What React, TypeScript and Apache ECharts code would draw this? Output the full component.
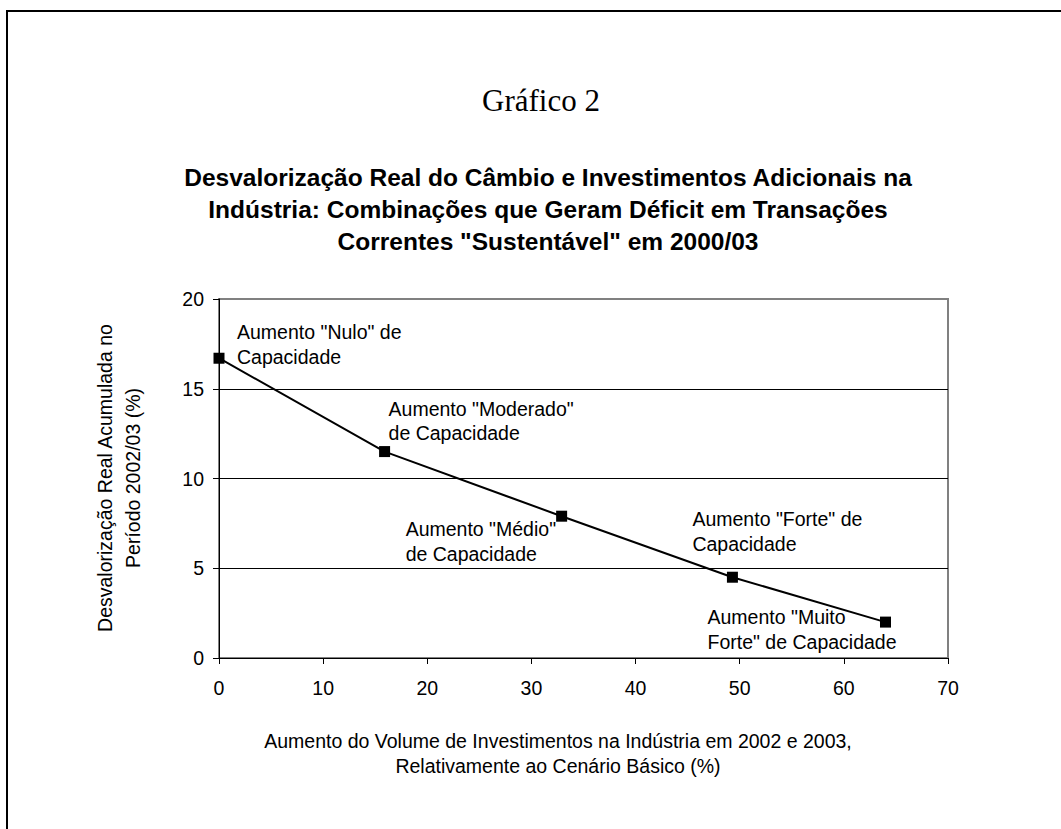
import React, { useEffect, useRef } from "react";
import * as echarts from "echarts";

// ---- Data ----
const investIncrease: number[] = [0, 15.9, 32.9, 49.3, 64.0];
const realDevaluation: number[] = [16.7, 11.5, 7.9, 4.5, 2.0];
const pointLabels: string[] = [
  'Aumento "Nulo" de\nCapacidade',
  'Aumento "Moderado"\nde Capacidade',
  'Aumento "Médio"\nde Capacidade',
  'Aumento "Forte" de\nCapacidade',
  'Aumento "Muito\nForte" de Capacidade',
];
const xTicks = { min: 0, max: 70, interval: 10 };
const yTicks = { min: 0, max: 20, interval: 5 };

const pageTitle = "Gráfico 2";
const chartTitle =
  "Desvalorização Real do Câmbio e Investimentos Adicionais na\nIndústria: Combinações que Geram Déficit em Transações\nCorrentes \"Sustentável\" em 2000/03";
const xName = "Aumento do Volume de Investimentos na Indústria em 2002 e 2003,\nRelativamente ao Cenário Básico (%)";
const yName = "Desvalorização Real Acumulada no\nPeríodo 2002/03 (%)";

// ---- Layout (label offsets in px from each point) ----
const labelOffsets: [number, number][] = [
  [18, -38],
  [4, -55],
  [-156, 1],
  [-40, -70],
  [-178, -17],
];

const SANS = "'Liberation Sans', Arial, sans-serif";
const SERIF = "'Liberation Serif', 'Times New Roman', serif";
const FS = 19.5;

export default function App() {
  const ref = useRef<HTMLDivElement>(null);
  useEffect(() => {
    if (!ref.current) return;
    const chart = echarts.init(ref.current, undefined, { renderer: "svg" });
    const data = investIncrease.map((x, i) => ({
      value: [x, realDevaluation[i]],
      label: {
        show: true,
        formatter: pointLabels[i],
        position: "inside",
        align: "left",
        verticalAlign: "top",
        offset: labelOffsets[i],
        color: "#000",
        fontFamily: SANS,
        fontSize: FS,
        lineHeight: 24.5,
      },
    }));
    chart.setOption({
      animation: false,
      backgroundColor: "#fff",
      grid: {
        left: 219,
        top: 299,
        width: 729,
        height: 359,
        show: true,
        borderColor: "#808080",
        borderWidth: 2,
        backgroundColor: "transparent",
      },
      xAxis: {
        type: "value",
        min: xTicks.min,
        max: xTicks.max,
        interval: xTicks.interval,
        axisLine: { show: true, onZero: false, lineStyle: { color: "#000", width: 1 } },
        axisTick: { show: true, inside: false, length: 6, lineStyle: { color: "#000" } },
        axisLabel: { color: "#000", fontFamily: SANS, fontSize: FS, margin: 20 },
        splitLine: { show: false },
      },
      yAxis: {
        type: "value",
        min: yTicks.min,
        max: yTicks.max,
        interval: yTicks.interval,
        axisLine: { show: true, onZero: false, lineStyle: { color: "#000", width: 1 } },
        axisTick: { show: true, inside: false, length: 6, lineStyle: { color: "#000" } },
        axisLabel: { color: "#000", fontFamily: SANS, fontSize: FS, margin: 15 },
        splitLine: { show: true, showMinLine: false, showMaxLine: false, lineStyle: { color: "#000", width: 1 } },
      },
      series: [
        {
          type: "line",
          data,
          symbol: "rect",
          symbolSize: 11,
          showAllSymbol: true,
          lineStyle: { color: "#000", width: 2 },
          itemStyle: { color: "#000" },
          z: 3,
        },
      ],
      graphic: [
        { type: "rect", shape: { x: 6, y: 10, width: 1055, height: 2 }, style: { fill: "#000" } },
        { type: "rect", shape: { x: 6, y: 10, width: 2, height: 819 }, style: { fill: "#000" } },
        {
          type: "text",
          x: 541,
          y: 100,
          style: { text: pageTitle, fill: "#000", font: `31px ${SERIF}`, align: "center", verticalAlign: "middle" },
        },
        {
          type: "text",
          x: 548,
          y: 209,
          style: {
            text: chartTitle,
            fill: "#000",
            fontFamily: SANS,
            fontWeight: "bold",
            fontSize: 24.5,
            lineHeight: 32,
            align: "center",
            verticalAlign: "middle",
          },
        },
        {
          type: "text",
          x: 558,
          y: 753,
          style: {
            text: xName,
            fill: "#000",
            fontFamily: SANS,
            fontSize: FS,
            lineHeight: 25,
            align: "center",
            verticalAlign: "middle",
          },
        },
        {
          type: "text",
          x: 119,
          y: 478,
          rotation: Math.PI / 2,
          style: {
            text: yName,
            fill: "#000",
            fontFamily: SANS,
            fontSize: FS,
            lineHeight: 28,
            align: "center",
            verticalAlign: "middle",
          },
        },
      ],
    });
    return () => chart.dispose();
  }, []);
  return <div ref={ref} style={{ position: "absolute", left: 0, top: 0, width: 1061, height: 829 }} />;
}
